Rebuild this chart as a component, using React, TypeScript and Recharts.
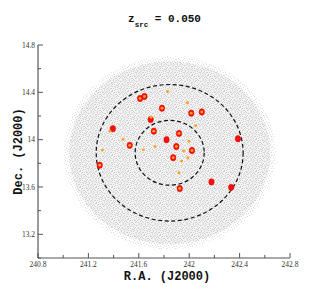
import { ScatterChart, Scatter, XAxis, YAxis, ReferenceArea } from 'recharts';

// axis ticks (minor every 0.2, labelled every 0.4)
const xTicks = [240.8, 241, 241.2, 241.4, 241.6, 241.8, 242, 242.2, 242.4, 242.6, 242.8];
const xLabels = [240.8, 241.2, 241.6, 242, 242.4, 242.8];
const yTicks = [13, 13.2, 13.4, 13.6, 13.8, 14, 14.2, 14.4, 14.6, 14.8];
const yLabels = [13.2, 13.6, 14, 14.4, 14.8];

// cluster centre and radii (deg)
const centre = [241.845, 13.889];
const fieldRadius = [0.84, 0.815];
const outerRadius = [0.583, 0.577];
const innerRadius = [0.274, 0.274];

// red members [ra, dec]
const redMembers = [
  [241.61, 14.348], [241.645, 14.365], [241.784, 14.266], [242.016, 14.224], [242.1, 14.234],
  [241.694, 14.171], [241.394, 14.093], [241.719, 14.072], [241.919, 14.053], [241.82, 14.0],
  [242.387, 14.008], [241.528, 13.952], [241.898, 13.942], [242.022, 13.908], [241.873, 13.848],
  [241.29, 13.784], [242.177, 13.643], [242.333, 13.597], [241.925, 13.587],
];

// orange sources [ra, dec]
const orangeSources = [
  [241.61, 14.348], [241.645, 14.365], [241.784, 14.266], [242.016, 14.224], [242.1, 14.234],
  [241.719, 14.072], [241.919, 14.053], [241.528, 13.952], [241.898, 13.942], [242.022, 13.908],
  [241.873, 13.848], [241.29, 13.784], [241.925, 13.587],
  [241.697, 14.19], [241.828, 14.407], [241.987, 14.312], [242.052, 14.118], [241.371, 14.072],
  [241.475, 14.001], [241.998, 13.986], [241.729, 13.941], [241.312, 13.912], [241.636, 13.914],
  [241.955, 13.904], [241.94, 13.819], [241.99, 13.847], [241.919, 13.72],
];

const toPts = (a: number[][]) => a.map(([x, y]) => ({ x, y }));

// speckle texture for the background field (16px tile)
const speckleA = [
  [1, 0], [6, 0], [11, 0], [14, 0], [3, 1], [9, 1], [0, 2], [5, 2], [12, 2], [7, 3], [10, 3], [15, 3],
  [2, 4], [13, 4], [4, 5], [8, 5], [11, 5], [0, 6], [6, 6], [14, 6], [3, 7], [9, 7], [12, 7],
  [1, 8], [7, 8], [15, 8], [5, 9], [10, 9], [2, 10], [8, 10], [13, 10], [0, 11], [11, 11], [15, 11],
  [4, 12], [6, 12], [9, 12], [1, 13], [12, 13], [14, 13], [3, 14], [7, 14], [10, 14], [5, 15], [13, 15],
];
const speckleB = [
  [4, 0], [8, 1], [13, 1], [2, 2], [15, 2], [0, 4], [6, 4], [10, 4], [2, 6], [9, 6], [12, 5], [5, 7],
  [14, 8], [3, 9], [8, 8], [12, 9], [0, 10], [6, 11], [10, 11], [13, 12], [2, 12], [8, 13], [4, 14],
  [11, 15], [15, 14], [1, 15], [7, 12], [15, 5], [11, 8], [5, 5],
];

const fieldShape = (id: string, dots: number[][], dotColor: string, bg?: string) => (p: any) => (
  <g>
    <defs>
      <pattern id={id} width={16} height={16} patternUnits="userSpaceOnUse">
        {bg && <rect width={16} height={16} fill={bg} />}
        {dots.map(([dx, dy], i) => (
          <rect key={i} x={dx} y={dy} width={1} height={1} fill={dotColor} />
        ))}
      </pattern>
    </defs>
    <ellipse
      cx={p.x + p.width / 2}
      cy={p.y + p.height / 2}
      rx={Math.abs(p.width) / 2}
      ry={Math.abs(p.height) / 2}
      fill={`url(#${id})`}
    />
  </g>
);

const ringShape = (p: any) => (
  <ellipse
    cx={p.x + p.width / 2}
    cy={p.y + p.height / 2}
    rx={Math.abs(p.width) / 2}
    ry={Math.abs(p.height) / 2}
    fill="none"
    stroke="#111"
    strokeWidth={1.2}
    strokeDasharray="4 2.6"
  />
);

const isLabel = (list: number[], v: number) => list.some((l) => Math.abs(l - v) < 1e-6);
const axisColor = '#555';
const tickFont = { fontFamily: 'Liberation Serif', fontSize: 7.5, fill: '#333' };
const titleFont = { fontFamily: 'Liberation Mono', fontWeight: 'bold' as const, fill: '#111' };

const BottomTick = ({ x, y, payload }: any) => {
  const major = isLabel(xLabels, payload.value);
  return (
    <g>
      <line x1={x} x2={x} y1={y} y2={y - (major ? 5 : 3)} stroke={axisColor} />
      {major && (
        <text x={x} y={y + 9} textAnchor="middle" {...tickFont}>
          {String(payload.value)}
        </text>
      )}
    </g>
  );
};

const TopTick = ({ x, y, payload }: any) => {
  const major = isLabel(xLabels, payload.value);
  return <line x1={x} x2={x} y1={y} y2={y + (major ? 5 : 3)} stroke={axisColor} />;
};

const LeftTick = ({ x, y, payload }: any) => {
  const major = isLabel(yLabels, payload.value);
  return (
    <g>
      <line x1={x} x2={x + (major ? 5 : 3)} y1={y} y2={y} stroke={axisColor} />
      {major && (
        <text x={x - 3} y={y + 2.6} textAnchor="end" {...tickFont}>
          {String(payload.value)}
        </text>
      )}
    </g>
  );
};

const RightTick = ({ x, y, payload }: any) => {
  const major = isLabel(yLabels, payload.value);
  return <line x1={x} x2={x - (major ? 5 : 3)} y1={y} y2={y} stroke={axisColor} />;
};

const XTitle = ({ viewBox }: any) => (
  <text x={viewBox.x + viewBox.width / 2 + 3} y={viewBox.y + 21.5} textAnchor="middle" fontSize={12} {...titleFont}>
    R.A. (J2000)
  </text>
);

const YTitle = ({ viewBox }: any) => {
  const cx = 21.5;
  const cy = viewBox.y + viewBox.height / 2;
  return (
    <text x={cx} y={cy} transform={`rotate(-90 ${cx} ${cy})`} textAnchor="middle" fontSize={12} {...titleFont}>
      Dec. (J2000)
    </text>
  );
};

const RedDot = ({ cx, cy }: any) => (
  <ellipse cx={cx} cy={cy} rx={2.7} ry={3.2} fill="#ff0d0d" stroke="#d40000" strokeWidth={0.5} />
);

const OrangeDot = ({ cx, cy }: any) => <circle cx={cx} cy={cy} r={1.45} fill="#ffa21f" />;

const App = () => {
  const [cx, cy] = centre;
  return (
    <div style={{ position: 'fixed', left: 0, top: 0, width: 327, height: 305, background: '#fff' }}>
      <svg width={327} height={40} style={{ position: 'absolute', left: 0, top: 0 }}>
        <text x={164.5} y={22.3} textAnchor="middle" fontSize={11} {...titleFont}>
          z<tspan dy={4.5} fontSize={7.5}>src</tspan>
          <tspan dy={-4.5}> = 0.050</tspan>
        </text>
      </svg>
      <ScatterChart width={327} height={305} margin={{ top: 45, right: 37, bottom: 0, left: 0 }}>
        <XAxis
          type="number"
          dataKey="x"
          domain={[240.8, 242.8]}
          allowDataOverflow
          ticks={xTicks}
          interval={0}
          height={47}
          tickSize={0}
          tickMargin={0}
          tickLine={false}
          tick={<BottomTick />}
          axisLine={{ stroke: axisColor, strokeWidth: 1.2 }}
          label={XTitle}
        />
        <XAxis
          xAxisId="top"
          orientation="top"
          type="number"
          domain={[240.8, 242.8]}
          allowDataOverflow
          ticks={xTicks}
          interval={0}
          height={0}
          tickSize={0}
          tickMargin={0}
          tickLine={false}
          tick={<TopTick />}
          axisLine={{ stroke: axisColor, strokeWidth: 1.2 }}
        />
        <YAxis
          type="number"
          dataKey="y"
          domain={[13, 14.8]}
          allowDataOverflow
          ticks={yTicks}
          interval={0}
          width={38}
          tickSize={0}
          tickMargin={0}
          tickLine={false}
          tick={<LeftTick />}
          axisLine={{ stroke: axisColor, strokeWidth: 1.2 }}
          label={YTitle}
        />
        <YAxis
          yAxisId="right"
          orientation="right"
          type="number"
          domain={[13, 14.8]}
          allowDataOverflow
          ticks={yTicks}
          interval={0}
          width={0}
          tickSize={0}
          tickMargin={0}
          tickLine={false}
          tick={<RightTick />}
          axisLine={{ stroke: axisColor, strokeWidth: 1.2 }}
        />
        <ReferenceArea
          x1={cx - fieldRadius[0]}
          x2={cx + fieldRadius[0]}
          y1={cy - fieldRadius[1]}
          y2={cy + fieldRadius[1]}
          ifOverflow="visible"
          shape={fieldShape('fieldOuter', speckleA, '#dedede')}
        />
        <ReferenceArea
          x1={cx - fieldRadius[0] * 0.95}
          x2={cx + fieldRadius[0] * 0.95}
          y1={cy - fieldRadius[1] * 0.95}
          y2={cy + fieldRadius[1] * 0.95}
          ifOverflow="visible"
          shape={fieldShape('fieldInner', [...speckleA, ...speckleB], '#d0d0d0', '#f3f3f3')}
        />
        <ReferenceArea
          x1={cx - outerRadius[0]}
          x2={cx + outerRadius[0]}
          y1={cy - outerRadius[1]}
          y2={cy + outerRadius[1]}
          ifOverflow="visible"
          shape={ringShape}
        />
        <ReferenceArea
          x1={cx - innerRadius[0]}
          x2={cx + innerRadius[0]}
          y1={cy - innerRadius[1]}
          y2={cy + innerRadius[1]}
          ifOverflow="visible"
          shape={ringShape}
        />
        <Scatter data={toPts(redMembers)} shape={RedDot} isAnimationActive={false} />
        <Scatter data={toPts(orangeSources)} shape={OrangeDot} isAnimationActive={false} />
      </ScatterChart>
    </div>
  );
};

export default App;
